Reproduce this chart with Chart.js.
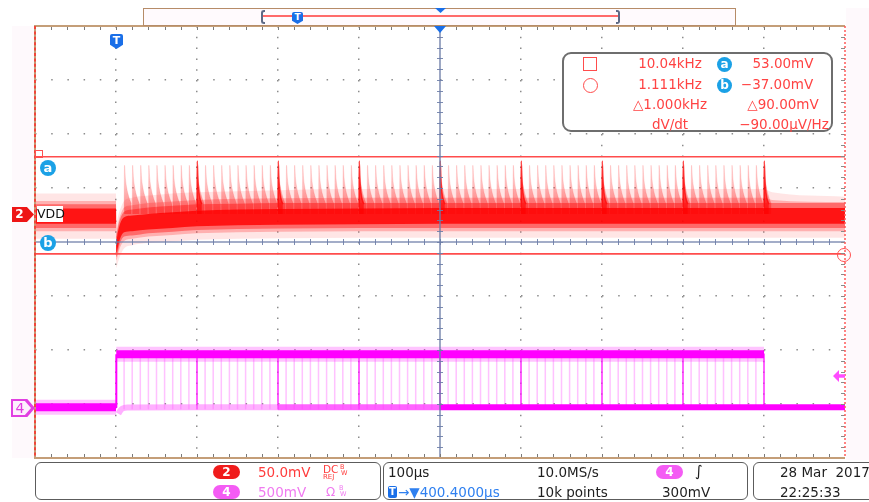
<!DOCTYPE html>
<html lang="en">
<head>
<meta charset="utf-8">
<title>VDD transient - CH2 / CH4</title>
<script src="https://cdn.jsdelivr.net/npm/chart.js@4.4.1/dist/chart.umd.min.js"></script>
<style>
  html, body { margin: 0; padding: 0; background: #fff; }
  #screen { position: relative; width: 869px; height: 502px; overflow: hidden;
            font-family: "DejaVu Sans", sans-serif; }
  #screen canvas { position: absolute; left: 0; top: 0; }
  .abs { position: absolute; white-space: nowrap; line-height: 1; }
  .pale { position: absolute; background: #fef9fc; }
  .box { position: absolute; box-sizing: border-box; border: 1.5px solid #5c5c5c; border-radius: 6px; background: #fff; }
  .pill { position: absolute; width: 27px; height: 14px; border-radius: 7px; color: #fff;
          font-weight: bold; font-size: 12px; line-height: 14px; text-align: center; }
  .cur { position: absolute; width: 16px; height: 16px; border-radius: 50%; background: #1ba1e6; color: #fff;
         font-weight: bold; font-size: 13px; line-height: 15px; text-align: center; }
  .tmark { position: absolute; background: #1a6fe8; color: #fff; font-weight: bold; text-align: center;
           clip-path: polygon(0 0, 100% 0, 100% 72%, 50% 100%, 0 72%); border-radius: 2px 2px 0 0; }
  .ro { position: absolute; font-size: 13.5px; line-height: 1; color: #ff4343; white-space: nowrap; transform: translateX(-50%); }
  .st { position: absolute; font-size: 13.5px; line-height: 1; white-space: nowrap; }
  .red { color: #ff3c3c; }
  .mag { color: #f07af0; }
  .blue { color: #2f80f0; }
  .blk { color: #1e1e1e; }
</style>
</head>
<body>
<div id="screen">
  <div class="pale" style="left:12px; top:26px; width:23px; height:432px"></div>
  <div class="pale" style="left:846px; top:8px; width:23px; height:452px"></div>

  <canvas id="scope" width="869" height="502"></canvas>

  <!-- record view bar -->
  <div class="abs" style="left:143px; top:8px; width:593px; height:18px; box-sizing:border-box; border:1.5px solid #b68c68; background:#fffafd"></div>
  <div class="abs" style="left:263px; top:15px; width:356px; height:2px; background:#ff6a6a"></div>
  <div class="abs" style="left:261px; top:10px; width:4px; height:14px; box-sizing:border-box; border:2px solid #5d6a86; border-right:none; border-radius:3px 0 0 3px"></div>
  <div class="abs" style="left:616px; top:10px; width:4px; height:14px; box-sizing:border-box; border:2px solid #5d6a86; border-left:none; border-radius:0 3px 3px 0"></div>
  <div class="tmark" style="left:292px; top:12px; width:11px; height:12px; font-size:9px; line-height:10px">T</div>
  <div class="abs" style="left:435px; top:8px; width:11px; height:5px; background:#1a6fe8; clip-path:polygon(0 0,100% 0,50% 100%)"></div>

  <!-- trigger position marks in the graticule -->
  <div class="abs" style="left:434px; top:26px; width:12px; height:7px; background:#1a6fe8; clip-path:polygon(0 0,100% 0,50% 100%)"></div>
  <div class="tmark" style="left:110px; top:34px; width:13px; height:15px; font-size:11px; line-height:13px">T</div>

  <!-- channel / cursor markers -->
  <div class="abs" style="left:12px; top:207px; width:22px; height:15px; background:#ee1515; clip-path:polygon(0 0,68% 0,100% 50%,68% 100%,0 100%)"></div>
  <div class="abs" style="left:12px; top:207px; width:15px; height:15px; color:#fff; font-weight:bold; font-size:12px; line-height:15px; text-align:center">2</div>
  <div class="abs" style="left:37px; top:206px; width:26px; height:16px; background:#fff; color:#111; font-size:12.5px; line-height:16px; text-align:center">VDD</div>

  <div class="abs" style="left:11px; top:399px; width:24px; height:18px; background:#e13fe1; clip-path:polygon(0 0,68% 0,100% 50%,68% 100%,0 100%)"></div>
  <div class="abs" style="left:13px; top:401px; width:18px; height:14px; background:#fdf0fd; clip-path:polygon(0 0,66% 0,100% 50%,66% 100%,0 100%)"></div>
  <div class="abs" style="left:12px; top:400px; width:16px; height:17px; color:#e03ce0; font-size:14px; line-height:17px; text-align:center">4</div>

  <div class="cur" style="left:40px; top:160px">a</div>
  <div class="cur" style="left:40px; top:235px">b</div>
  <div class="abs" style="left:35px; top:150px; width:8px; height:8px; box-sizing:border-box; border:1.5px solid #ff5050"></div>
  <div class="abs" style="left:837px; top:248px; width:14px; height:14px; box-sizing:border-box; border:1.5px solid #ff5050; border-radius:50%"></div>
  <div class="abs" style="left:833px; top:370px; width:12px; height:12px; background:#ff4cff; clip-path:polygon(0 50%,50% 0,50% 35%,100% 35%,100% 65%,50% 65%,50% 100%)"></div>

  <!-- cursor readout -->
  <div class="abs" style="left:562px; top:52px; width:271px; height:80px; box-sizing:border-box; border:2px solid #6e6e6e; border-radius:9px; background:#fff"></div>
  <div class="abs" style="left:583px; top:57px; width:14px; height:14px; box-sizing:border-box; border:1.5px solid #ff4c4c"></div>
  <div class="abs" style="left:583px; top:78px; width:15px; height:15px; box-sizing:border-box; border:1.5px solid #ff4c4c; border-radius:50%"></div>
  <div class="ro" style="left:670px; top:57px">10.04kHz</div>
  <div class="ro" style="left:670px; top:78px">1.111kHz</div>
  <div class="ro" style="left:670px; top:98px">△1.000kHz</div>
  <div class="ro" style="left:670px; top:118px">dV/dt</div>
  <div class="cur" style="left:717px; top:57px; width:15px; height:15px; font-size:12px; line-height:14px">a</div>
  <div class="cur" style="left:717px; top:78px; width:15px; height:15px; font-size:12px; line-height:14px">b</div>
  <div class="ro" style="left:783px; top:57px">53.00mV</div>
  <div class="ro" style="left:777px; top:78px">−37.00mV</div>
  <div class="ro" style="left:783px; top:98px">△90.00mV</div>
  <div class="ro" style="left:784px; top:118px">−90.00µV/Hz</div>

  <!-- status bar -->
  <div class="box" style="left:35px; top:462px; width:346px; height:38px"></div>
  <div class="box" style="left:383px; top:462px; width:365px; height:38px"></div>
  <div class="box" style="left:753px; top:462px; width:125px; height:38px"></div>

  <div class="pill" style="left:213px; top:465px; background:#f01c1c">2</div>
  <div class="st red" style="left:258px; top:466px">50.0mV</div>
  <div class="st red" style="left:323px; top:464px; font-size:10.5px">DC</div>
  <div class="st red" style="left:340px; top:464px; font-size:6.5px">B</div>
  <div class="st red" style="left:341px; top:470px; font-size:6.5px">W</div>
  <div class="st red" style="left:323px; top:474px; font-size:7px">REJ</div>
  <div class="pill" style="left:213px; top:485px; background:#f45cf4">4</div>
  <div class="st mag" style="left:258px; top:486px">500mV</div>
  <div class="st mag" style="left:326px; top:486px; font-size:12px">Ω</div>
  <div class="st mag" style="left:339px; top:485px; font-size:6.5px">B</div>
  <div class="st mag" style="left:340px; top:491px; font-size:6.5px">W</div>

  <div class="st blk" style="left:388px; top:466px">100µs</div>
  <div class="abs" style="left:388px; top:486px; width:9px; height:12px; background:#1a6fe8; border-radius:2px; color:#fff; font-weight:bold; font-size:10px; line-height:12px; text-align:center">T</div>
  <div class="st blue" style="left:398px; top:486px">→▼400.4000µs</div>
  <div class="st blk" style="left:537px; top:466px">10.0MS/s</div>
  <div class="st blk" style="left:537px; top:486px">10k points</div>
  <div class="pill" style="left:656px; top:465px; background:#f45cf4">4</div>
  <div class="st blk" style="left:695px; top:464px; font-size:15px">∫</div>
  <div class="st blk" style="left:662px; top:486px">300mV</div>

  <div class="st blk" style="left:780px; top:466px">28 Mar&nbsp; 2017</div>
  <div class="st blk" style="left:780px; top:486px">22:25:33</div>
</div>

<script>
// time axis in µs after trigger (100 µs/div, trigger 4 div left of centre)
const timeMin = -100;
const timeMax = 900;

// scope vertical settings
const ch2MvPerDiv = 50;
const ch2Position = 0.52;   // divisions above centre
const ch4MvPerDiv = 500;
const ch4Position = -3.06;

// CH2 (VDD, AC) persistence band, mV - outer halo to dark core
const ch2Time     = [-100, 0, 0.5, 2, 5, 10, 20, 40, 70, 100, 150, 200, 300, 400, 800, 810, 900];
const ch2HaloTop  = [19, 19, -10, -4, 4, 12, 15, 17, 19, 20, 21, 22, 23, 23, 23, 20, 16];
const ch2HaloBot  = [-23, -23, -50, -46, -39, -32, -29, -27, -25.5, -24, -23, -22.5, -22, -22, -22, -22, -22];
const ch2MidTop   = [12, 12, -18, -11, -2, 6, 8, 10, 11.5, 13, 14, 14.5, 15, 15, 15, 13, 11];
const ch2MidBot   = [-16, -16, -43, -39, -31, -25, -23, -21, -19.5, -18, -17, -16.5, -16, -16, -16, -16, -16];
const ch2InnerTop = [9, 9, -21, -14, -5, 2, 4, 6, 7.5, 9, 9.5, 10, 10, 10, 10, 10, 10];
const ch2InnerBot = [-13, -13, -40, -36, -27, -21, -20, -18, -16.5, -15, -14, -13.5, -13, -13, -13, -13, -13];
const ch2CoreTop  = [5, 5, -25, -18, -9, -3, -1.5, 0, 1.5, 3, 4, 4.5, 5, 5.5, 5.5, 5.5, 5.5];
const ch2CoreBot  = [-9, -9, -36, -32, -23, -17, -16, -14.5, -13, -11.5, -10.5, -10, -9.5, -9, -9, -9, -9];

// CH2 load spikes (µs) and their shape (offset µs, level mV)
const ch2SpikeTimes = [
  10, 20, 30, 40, 50, 60, 70, 80, 90, 100, 110, 120, 130, 140, 150, 160, 170, 180, 190, 200,
  210, 220, 230, 240, 250, 260, 270, 280, 290, 300, 310, 320, 330, 340, 350, 360, 370, 380, 390, 400,
  410, 420, 430, 440, 450, 460, 470, 480, 490, 500, 510, 520, 530, 540, 550, 560, 570, 580, 590, 600,
  610, 620, 630, 640, 650, 660, 670, 680, 690, 700, 710, 720, 730, 740, 750, 760, 770, 780, 790, 800
];
const ch2SpikeDt = [0, 0.5, 1.6, 3.2, 5.8, 9.2];
const ch2SpikeMv = [4, 45, 33, 24, 16, 9];
const ch2BigSpikeTimes = [100, 200, 300, 400, 500, 600, 700, 800];
const ch2BigSpikeDt = [0, 0.3, 1, 2, 3.5, 6];
const ch2BigSpikeMv = [6, 49, 34, 23, 15, 9];

// cursors a / b (CH2 mV)
const cursorA = 53;
const cursorB = -37;

// CH4 logic signal, mV
const ch4LowTime  = [-100, 0];
const ch4LowMv    = [0, 0];
const ch4EdgeTime = [0, 0.4];
const ch4EdgeMv   = [0, 490];
const ch4HighTime = [0.4, 800];
const ch4HighMv   = [490, 490];
const ch4TailTime = [3, 5, 8, 14, 100, 200, 300, 400, 800, 900];
const ch4TailMv   = [-60, -35, -12, -3, 0, 0, 0, 0, 0, 0];
const ch4PulseTimes = ch2SpikeTimes;
const ch4BigPulseTimes = ch2BigSpikeTimes;
const ch4PulseMv  = [490, -15];

const div2 = mv => mv / ch2MvPerDiv + ch2Position;
const div4 = mv => mv / ch4MvPerDiv + ch4Position;

function pts(ts, vs, f) {
    return ts.map((t, i) => ({x: t, y: f(vs[i])}));
}

function spikeTrain(times, dts, mvs) {
    const out = [];
    times.forEach(t => {
        dts.forEach((d, i) => out.push({x: t + d, y: div2(mvs[i])}));
        out.push({x: t + dts[dts.length - 1] + 0.1, y: null});
    });
    return out;
}

function edgeTrain(times, mvs) {
    const out = [];
    times.forEach(t => {
        out.push({x: t, y: div4(mvs[0])}, {x: t, y: div4(mvs[1])}, {x: t, y: null});
    });
    return out;
}

function vGradient(topMv, botMv, c0, c1) {
    return function(ctx) {
        const chart = ctx.chart;
        if (!chart.chartArea) return c1;
        const y = chart.scales.y;
        const g = chart.ctx.createLinearGradient(0, y.getPixelForValue(div2(topMv)), 0, y.getPixelForValue(div2(botMv)));
        g.addColorStop(0, c0);
        g.addColorStop(1, c1);
        return g;
    };
}

function band(top, bot, color, order) {
    return [
        {data: pts(ch2Time, top, div2), borderWidth: 0, backgroundColor: color, fill: '+1',
         cubicInterpolationMode: 'monotone', order: order},
        {data: pts(ch2Time, bot, div2), borderWidth: 0, fill: false,
         cubicInterpolationMode: 'monotone', order: order}
    ];
}

function flat(value, f, color, width, order) {
    return {data: [{x: timeMin, y: f(value)}, {x: timeMax, y: f(value)}],
            borderColor: color, borderWidth: width, fill: false, order: order};
}

const datasets = [
    ...band(ch2HaloTop, ch2HaloBot, 'rgba(255,80,80,0.15)', 22),
    ...band(ch2MidTop, ch2MidBot, 'rgba(255,40,40,0.28)', 21),
    {
        data: spikeTrain(ch2SpikeTimes, ch2SpikeDt, ch2SpikeMv),
        borderColor: 'rgba(255,80,80,0.18)', borderWidth: 1,
        backgroundColor: vGradient(45, 4, 'rgba(255,110,110,0.2)', 'rgba(255,40,40,0.55)'),
        fill: {value: div2(0)}, cubicInterpolationMode: 'monotone', order: 20
    },
    {
        data: spikeTrain(ch2BigSpikeTimes, ch2BigSpikeDt, ch2BigSpikeMv),
        borderColor: 'rgba(255,0,0,0.7)', borderWidth: 1.5,
        backgroundColor: vGradient(49, 6, 'rgba(255,20,20,0.35)', 'rgba(255,0,0,0.7)'),
        fill: {value: div2(0)}, cubicInterpolationMode: 'monotone', order: 19
    },
    ...band(ch2InnerTop, ch2InnerBot, 'rgba(255,20,20,0.45)', 18),
    ...band(ch2CoreTop, ch2CoreBot, 'rgba(255,0,0,0.8)', 17),

    // CH4
    {data: edgeTrain(ch4PulseTimes, ch4PulseMv), borderColor: 'rgba(255,70,255,0.33)', borderWidth: 1.5, fill: false, order: 12},
    {data: edgeTrain(ch4BigPulseTimes, ch4PulseMv), borderColor: 'rgba(255,20,255,0.6)', borderWidth: 2, fill: false, order: 11},
    {data: pts(ch4LowTime, ch4LowMv, div4), borderColor: 'rgba(255,60,255,0.3)', borderWidth: 15, fill: false, order: 10},
    {data: pts(ch4HighTime, ch4HighMv, div4), borderColor: 'rgba(255,60,255,0.3)', borderWidth: 15, fill: false, order: 10},
    {data: pts(ch4LowTime, ch4LowMv, div4), borderColor: '#ff00ff', borderWidth: 8, fill: false, order: 9},
    {data: pts(ch4HighTime, ch4HighMv, div4), borderColor: '#ff00ff', borderWidth: 8, fill: false, order: 9},
    {data: pts(ch4EdgeTime, ch4EdgeMv, div4), borderColor: '#ff00ff', borderWidth: 2, fill: false, order: 9},
    {
        data: pts(ch4TailTime, ch4TailMv, div4), borderWidth: 6, fill: false, order: 9,
        cubicInterpolationMode: 'monotone', borderColor: '#ff00ff',
        segment: {
            borderColor: c => c.p0.parsed.x < 200 ? 'rgba(255,110,255,0.55)'
                            : c.p0.parsed.x < 400 ? 'rgba(255,60,255,0.8)' : '#ff00ff'
        }
    },

    // cursors
    flat(cursorA, div2, '#ff4c4c', 1.6, 1),
    flat(cursorB, div2, '#ff4c4c', 1.6, 1)
];

// graticule frame, centre cross and minor ticks
const scopeFrame = {
    id: 'scopeFrame',
    afterDatasetsDraw(chart) {
        const {ctx, chartArea: a, scales: {x, y}} = chart;
        const cx = x.getPixelForValue(400);
        const cy = y.getPixelForValue(0);
        const seg = (x1, y1, x2, y2) => { ctx.beginPath(); ctx.moveTo(x1, y1); ctx.lineTo(x2, y2); ctx.stroke(); };
        ctx.save();

        ctx.strokeStyle = 'rgba(110,126,168,0.85)';
        ctx.lineWidth = 1.6;
        seg(cx, a.top, cx, a.bottom);
        seg(a.left, cy, a.right, cy);

        ctx.lineWidth = 1;
        for (let t = timeMin + 20; t < timeMax; t += 20) {
            const px = Math.round(x.getPixelForValue(t)) + 0.5;
            ctx.strokeStyle = 'rgba(110,126,168,0.9)';
            seg(px, cy - 3, px, cy + 3);
            ctx.strokeStyle = '#7a7a7a';
            seg(px, a.top, px, a.top + 4);
            seg(px, a.bottom - 4, px, a.bottom);
        }
        for (let d = -3.8; d < 4; d += 0.2) {
            const py = Math.round(y.getPixelForValue(d)) + 0.5;
            ctx.strokeStyle = 'rgba(110,126,168,0.9)';
            seg(cx - 3, py, cx + 3, py);
            ctx.strokeStyle = '#8a8a8a';
            seg(a.right - 4, py, a.right, py);
        }

        ctx.lineWidth = 2;
        ctx.strokeStyle = '#c49e78';
        seg(a.left - 1, a.top, a.right, a.top);
        seg(a.left - 1, a.bottom, a.right, a.bottom);
        seg(a.left, a.top, a.left, a.bottom);
        ctx.setLineDash([3, 2.4]);
        ctx.strokeStyle = '#f0463a';
        seg(a.left, a.top, a.left, a.bottom);
        ctx.setLineDash([2, 2]);
        ctx.lineWidth = 1.5;
        ctx.strokeStyle = '#ff5a5a';
        seg(a.right, a.top, a.right, a.bottom);
        ctx.restore();
    }
};

const hideEdges = (ctx, centre, lo, hi) => {
    const v = ctx.tick.value;
    return (v === centre || v === lo || v === hi) ? 'rgba(0,0,0,0)' : '#8c8c8c';
};

new Chart(document.getElementById('scope'), {
    type: 'line',
    data: {datasets: datasets},
    options: {
        responsive: false,
        animation: false,
        events: [],
        layout: {padding: {left: 35, top: 26, right: 24, bottom: 44}},
        elements: {point: {radius: 0}, line: {tension: 0, borderJoinStyle: 'round'}},
        plugins: {legend: {display: false}, tooltip: {enabled: false}},
        scales: {
            x: {
                type: 'linear', min: timeMin, max: timeMax,
                ticks: {display: false, stepSize: 100},
                grid: {drawTicks: false, lineWidth: 1.5, color: c => hideEdges(c, 400, timeMin, timeMax)},
                border: {display: false, dash: [1.5, 9.3]}
            },
            y: {
                type: 'linear', min: -4, max: 4,
                ticks: {display: false, stepSize: 1},
                grid: {drawTicks: false, lineWidth: 1.5, color: c => hideEdges(c, 0, -4, 4)},
                border: {display: false, dash: [1.5, 14.7]}
            }
        }
    },
    plugins: [scopeFrame]
});
</script>
</body>
</html>
